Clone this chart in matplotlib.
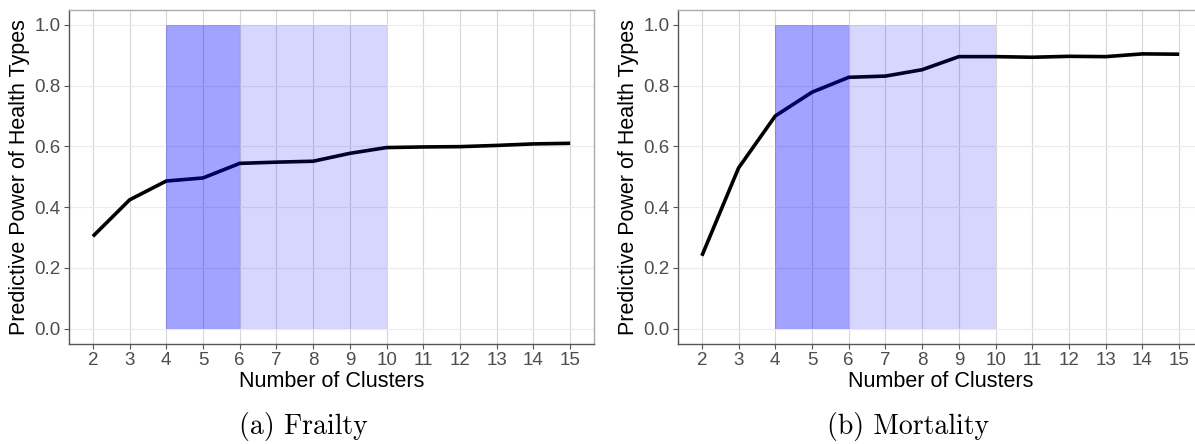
import matplotlib.pyplot as plt

plt.rcParams['font.family'] = ['Liberation Sans', 'DejaVu Sans']

clusters = [2, 3, 4, 5, 6, 7, 8, 9, 10, 11, 12, 13, 14, 15]
frailty = [0.304, 0.424, 0.486, 0.496, 0.544, 0.548, 0.551, 0.577, 0.596,
           0.598, 0.599, 0.603, 0.608, 0.610]
mortality = [0.240, 0.529, 0.700, 0.778, 0.827, 0.831, 0.852, 0.895, 0.895,
             0.893, 0.896, 0.895, 0.904, 0.903]
y_ticks = [0.0, 0.2, 0.4, 0.6, 0.8, 1.0]
wide_band = (4, 10)
narrow_band = (4, 6)
captions = ['(a) Frailty', '(b) Mortality']

W, H = 1195, 444
fig = plt.figure(figsize=(W / 100, H / 100), dpi=100)

panels = [(69, frailty, 303), (678, mortality, 908)]
for (x0, values, cap_x), cap in zip(panels, captions):
    ax = fig.add_axes([x0 / W, 1 - 344 / H, 525 / W, 334.5 / H])
    ax.set_xlim(clusters[0] - 0.65, clusters[-1] + 0.65)
    ax.set_ylim(-0.05, 1.05)
    ax.set_xticks(clusters)
    ax.set_yticks(y_ticks)
    ax.set_yticklabels([f'{v:.1f}' for v in y_ticks])
    ax.set_axisbelow(True)
    ax.grid(axis='x', color='#D6D6D6', lw=0.8)
    ax.grid(axis='y', color='#EBEBEB', lw=0.8)

    ax.plot(clusters, values, color='black', lw=2.6, solid_capstyle='butt', zorder=2)
    # shaded ranges drawn on top of the line, like the original
    ax.fill_between(wide_band, 0, 1, color='blue', alpha=0.16, lw=0, zorder=3)
    ax.fill_between(narrow_band, 0, 1, color='blue', alpha=0.24, lw=0, zorder=3)

    for side in ('top', 'right'):
        ax.spines[side].set_color('#ABABAB')
    for side in ('left', 'bottom'):
        ax.spines[side].set_color('#555555')
    for sp in ax.spines.values():
        sp.set_linewidth(1.0)
    ax.tick_params(length=3.5, width=0.8, color='#555555', labelcolor='#4D4D4D',
                   labelsize=13.5, pad=2.5)
    ax.set_xlabel('Number of Clusters', fontsize=15.5, labelpad=1)
    ax.set_ylabel('Predictive Power of Health Types', fontsize=15.5, labelpad=3)

    fig.text(cap_x / W, 1 - 434 / H, cap, family=['cmr10', 'DejaVu Serif'],
             fontsize=20, ha='center', va='baseline')

fig.savefig('out.png', dpi=100)
